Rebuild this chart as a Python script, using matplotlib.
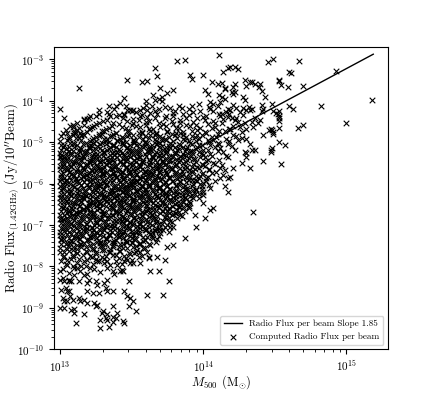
import numpy as np
import matplotlib
matplotlib.use("Agg")
import matplotlib.pyplot as plt

plt.rcParams['font.family'] = 'serif'
plt.rcParams['font.serif'] = ['cmr10', 'DejaVu Serif']
plt.rcParams['mathtext.fontset'] = 'cm'
plt.rcParams['axes.formatter.use_mathtext'] = True
plt.rcParams['axes.unicode_minus'] = False

# 値は log10(M500 / Msun), log10(Flux / Jy) で読み取り

# 上側のまばらな点
upper_pts = [
    (13.00, -4.19), (13.03, -4.42), (13.13, -3.69), (13.09, -4.59), (13.17, -4.45), (13.21, -4.37),
    (13.25, -4.38), (13.27, -4.23), (13.34, -4.14), (13.34, -4.31), (13.39, -4.14), (13.45, -3.93),
    (13.45, -4.34), (13.47, -3.51), (13.51, -4.23), (13.57, -3.55), (13.61, -3.52), (13.60, -4.00),
    (13.66, -3.21), (13.68, -3.41), (13.70, -3.69), (13.66, -3.98), (13.69, -3.95), (13.11, -4.78),
    (13.82, -3.04), (13.87, -3.01), (14.11, -2.90), (14.45, -3.07), (14.49, -3.00), (14.14, -3.31),
    (14.19, -3.20), (14.22, -3.19), (14.24, -3.24), (13.91, -3.39), (13.92, -3.48), (14.00, -3.39),
    (14.06, -3.55), (14.10, -3.60), (14.22, -3.61), (14.29, -3.49), (14.30, -3.65), (14.34, -3.55),
    (14.36, -3.61), (14.40, -3.60), (14.41, -3.77), (14.43, -3.91), (14.53, -3.51), (14.15, -3.71),
    (14.20, -3.79), (14.21, -3.83), (14.11, -3.87), (14.13, -3.91), (14.15, -3.95), (14.01, -3.75),
    (14.03, -3.83), (14.28, -3.91), (14.29, -3.99), (14.32, -4.15), (14.34, -4.19), (14.41, -4.11),
    (14.42, -4.19), (14.48, -4.09), (14.52, -4.31), (14.53, -4.43), (14.34, -4.51), (14.38, -4.55),
    (14.35, -4.63), (14.48, -4.71), (14.47, -4.68), (14.42, -4.83), (14.49, -4.80), (14.05, -4.03),
    (14.07, -4.07), (14.17, -4.19), (14.19, -4.23), (14.20, -4.43), (14.22, -4.47), (14.17, -4.39),
    (14.11, -4.31), (14.18, -4.68), (14.29, -4.55), (14.30, -4.68), (14.30, -4.92), (14.33, -5.04),
    (14.24, -4.96), (14.17, -5.04), (14.11, -5.04), (13.75, -3.81), (13.79, -3.74), (14.17, -3.22),
    (14.13, -3.58), (14.15, -3.70), (13.17, -4.47), (13.35, -4.38), (13.47, -4.22), (13.50, -4.26),
    (13.56, -4.23), (13.61, -4.22), (13.64, -4.14), (13.71, -3.90), (13.65, -3.86), (13.12, -4.71),
    (13.10, -4.79), (13.01, -5.35), (13.21, -4.67), (14.33, -3.54), (14.39, -3.66), (14.22, -3.78),
    (14.21, -3.66), (14.28, -4.18), (14.33, -4.22), (14.36, -4.42), (14.40, -4.47), (14.41, -4.26),
    (14.49, -4.26),
]

# 中心の密集部分 (1層目)
core_pts = [
    (13.42, -4.05), (13.58, -4.17), (13.71, -4.02), (13.83, -4.12), (13.90, -4.19), (13.97, -4.08),
    (14.04, -4.15), (14.12, -4.03), (14.21, -4.11), (13.77, -4.18),
    (13.33, -4.27), (13.41, -4.35), (13.49, -4.22), (13.56, -4.38), (13.63, -4.29), (13.69, -4.21),
    (13.74, -4.36), (13.80, -4.25), (13.86, -4.33), (13.93, -4.28), (14.00, -4.39), (14.07, -4.24),
    (14.13, -4.31), (14.26, -4.27), (13.61, -4.40),
    (13.12, -4.53), (13.19, -4.44), (13.25, -4.57), (13.30, -4.48), (13.37, -4.55), (13.44, -4.42),
    (13.50, -4.59), (13.55, -4.46), (13.60, -4.52), (13.66, -4.43), (13.72, -4.57), (13.78, -4.49),
    (13.84, -4.54), (13.88, -4.41), (13.95, -4.58), (14.01, -4.47), (14.08, -4.55), (14.14, -4.45),
    (14.24, -4.52), (13.47, -4.50),
    (13.04, -4.71), (13.09, -4.63), (13.14, -4.77), (13.20, -4.68), (13.24, -4.62), (13.29, -4.74),
    (13.34, -4.66), (13.39, -4.79), (13.43, -4.64), (13.48, -4.72), (13.53, -4.61), (13.57, -4.76),
    (13.62, -4.69), (13.67, -4.78), (13.70, -4.63), (13.75, -4.72), (13.81, -4.67), (13.86, -4.75),
    (13.91, -4.62), (13.96, -4.70), (14.02, -4.78), (14.06, -4.65), (14.11, -4.73), (14.19, -4.68),
    (14.27, -4.76),
    (13.01, -4.86), (13.05, -4.95), (13.09, -4.82), (13.13, -4.91), (13.17, -4.84), (13.21, -4.98),
    (13.25, -4.88), (13.29, -4.81), (13.33, -4.93), (13.36, -4.85), (13.40, -4.97), (13.44, -4.89),
    (13.48, -4.82), (13.51, -4.94), (13.55, -4.87), (13.59, -4.99), (13.63, -4.83), (13.66, -4.92),
    (13.70, -4.86), (13.74, -4.96), (13.78, -4.81), (13.82, -4.90), (13.86, -4.84), (13.90, -4.97),
    (13.94, -4.88), (13.99, -4.83), (14.03, -4.94), (14.09, -4.87), (14.16, -4.92), (14.23, -4.85),
    (13.01, -5.08), (13.04, -5.17), (13.07, -5.02), (13.10, -5.12), (13.13, -5.19), (13.16, -5.05),
    (13.20, -5.14), (13.23, -5.01), (13.26, -5.10), (13.29, -5.18), (13.32, -5.04), (13.35, -5.13),
    (13.38, -5.07), (13.41, -5.16), (13.44, -5.02), (13.47, -5.11), (13.50, -5.19), (13.53, -5.06),
    (13.56, -5.14), (13.59, -5.03), (13.62, -5.12), (13.65, -5.17), (13.68, -5.05), (13.71, -5.10),
    (13.74, -5.18), (13.77, -5.03), (13.80, -5.13), (13.84, -5.07), (13.88, -5.16), (13.92, -5.04),
    (13.96, -5.12), (14.00, -5.18), (14.05, -5.06), (14.12, -5.14), (14.20, -5.09),
    (13.00, -5.27), (13.03, -5.36), (13.06, -5.22), (13.08, -5.31), (13.11, -5.39), (13.14, -5.25),
    (13.16, -5.33), (13.19, -5.21), (13.22, -5.37), (13.24, -5.28), (13.27, -5.34), (13.30, -5.23),
    (13.32, -5.39), (13.35, -5.30), (13.38, -5.24), (13.40, -5.35), (13.43, -5.27), (13.46, -5.38),
    (13.48, -5.22), (13.51, -5.32), (13.54, -5.26), (13.56, -5.37), (13.59, -5.29), (13.62, -5.21),
    (13.64, -5.34), (13.67, -5.25), (13.70, -5.38), (13.72, -5.30), (13.75, -5.23), (13.78, -5.36),
    (13.81, -5.27), (13.84, -5.33), (13.87, -5.22), (13.90, -5.38), (13.93, -5.29), (13.97, -5.24),
    (14.01, -5.35), (14.05, -5.28), (14.10, -5.21), (14.16, -5.33),
    (13.01, -5.45), (13.03, -5.54), (13.05, -5.41), (13.08, -5.58), (13.10, -5.47), (13.13, -5.52),
    (13.15, -5.43), (13.18, -5.56), (13.21, -5.49), (13.23, -5.42), (13.26, -5.55), (13.29, -5.46),
    (13.31, -5.59), (13.34, -5.51), (13.37, -5.44), (13.39, -5.57), (13.42, -5.48), (13.45, -5.53),
    (13.47, -5.41), (13.50, -5.56), (13.53, -5.47), (13.55, -5.52), (13.58, -5.44), (13.61, -5.58),
    (13.63, -5.49), (13.66, -5.42), (13.69, -5.55), (13.71, -5.46), (13.74, -5.53), (13.77, -5.43),
    (13.80, -5.57), (13.83, -5.48), (13.86, -5.51), (13.89, -5.44), (13.92, -5.59), (13.95, -5.47),
    (13.99, -5.54), (14.03, -5.42), (14.07, -5.50), (14.13, -5.56),
    (13.00, -5.66), (13.02, -5.75), (13.05, -5.62), (13.07, -5.71), (13.10, -5.79), (13.12, -5.64),
    (13.15, -5.73), (13.17, -5.68), (13.20, -5.77), (13.23, -5.61), (13.25, -5.70), (13.28, -5.65),
    (13.30, -5.78), (13.33, -5.72), (13.36, -5.63), (13.38, -5.74), (13.41, -5.67), (13.43, -5.79),
    (13.46, -5.62), (13.49, -5.71), (13.51, -5.66), (13.54, -5.76), (13.57, -5.64), (13.59, -5.73),
    (13.62, -5.69), (13.65, -5.78), (13.67, -5.61), (13.70, -5.72), (13.73, -5.67), (13.75, -5.76),
    (13.78, -5.63), (13.81, -5.71), (13.84, -5.78), (13.87, -5.65), (13.90, -5.74), (13.93, -5.69),
    (13.97, -5.62), (14.00, -5.75), (14.04, -5.68), (14.09, -5.73),
    (13.01, -5.88), (13.03, -5.97), (13.06, -5.83), (13.08, -5.92), (13.11, -5.86), (13.13, -5.99),
    (13.16, -5.81), (13.18, -5.90), (13.21, -5.95), (13.24, -5.84), (13.26, -5.93), (13.29, -5.87),
    (13.31, -5.98), (13.34, -5.82), (13.37, -5.91), (13.39, -5.85), (13.42, -5.96), (13.44, -5.89),
    (13.47, -5.81), (13.50, -5.94), (13.52, -5.87), (13.55, -5.99), (13.58, -5.83), (13.60, -5.92),
    (13.63, -5.86), (13.66, -5.95), (13.68, -5.82), (13.71, -5.90), (13.74, -5.97), (13.76, -5.84),
    (13.79, -5.93), (13.82, -5.88), (13.85, -5.81), (13.88, -5.96), (13.91, -5.85), (13.94, -5.92),
    (13.97, -5.87), (14.00, -5.98), (14.03, -5.83), (13.46, -5.97),
    (13.00, -6.05), (13.02, -6.14), (13.05, -6.02), (13.07, -6.19), (13.10, -6.08), (13.12, -6.13),
    (13.15, -6.04), (13.17, -6.17), (13.20, -6.10), (13.22, -6.01), (13.25, -6.15), (13.27, -6.07),
    (13.30, -6.12), (13.32, -6.03), (13.35, -6.18), (13.37, -6.09), (13.40, -6.14), (13.42, -6.05),
    (13.45, -6.11), (13.47, -6.19), (13.50, -6.02), (13.52, -6.08), (13.55, -6.16), (13.57, -6.04),
    (13.60, -6.13), (13.62, -6.07), (13.65, -6.18), (13.67, -6.01), (13.70, -6.10), (13.72, -6.15),
    (13.75, -6.05), (13.77, -6.12), (13.80, -6.19), (13.83, -6.03), (13.86, -6.09), (13.89, -6.16),
    (13.92, -6.06), (13.95, -6.12), (13.98, -6.02), (13.53, -6.19),
    (13.01, -6.26), (13.03, -6.35), (13.06, -6.22), (13.08, -6.31), (13.11, -6.38), (13.13, -6.24),
    (13.16, -6.33), (13.18, -6.28), (13.21, -6.37), (13.23, -6.21), (13.26, -6.30), (13.28, -6.25),
    (13.31, -6.39), (13.33, -6.32), (13.36, -6.23), (13.38, -6.36), (13.41, -6.27), (13.43, -6.34),
    (13.46, -6.21), (13.48, -6.30), (13.51, -6.38), (13.53, -6.26), (13.56, -6.33), (13.58, -6.22),
    (13.61, -6.29), (13.63, -6.37), (13.66, -6.24), (13.68, -6.31), (13.71, -6.27), (13.73, -6.36),
    (13.76, -6.23), (13.79, -6.32), (13.82, -6.26), (13.85, -6.35), (13.88, -6.22), (13.91, -6.29),
    (13.94, -6.24), (13.40, -6.39),
    (13.00, -6.45), (13.03, -6.54), (13.05, -6.42), (13.08, -6.58), (13.10, -6.48), (13.13, -6.53),
    (13.15, -6.44), (13.18, -6.57), (13.20, -6.49), (13.23, -6.41), (13.25, -6.55), (13.28, -6.46),
    (13.30, -6.52), (13.33, -6.43), (13.36, -6.59), (13.38, -6.50), (13.41, -6.44), (13.43, -6.56),
    (13.46, -6.47), (13.48, -6.53), (13.51, -6.42), (13.53, -6.58), (13.56, -6.49), (13.58, -6.45),
    (13.61, -6.55), (13.63, -6.41), (13.66, -6.51), (13.69, -6.57), (13.71, -6.46), (13.74, -6.53),
    (13.77, -6.43), (13.80, -6.50), (13.83, -6.56), (13.86, -6.44), (13.89, -6.52),
    (13.01, -6.67), (13.03, -6.76), (13.06, -6.63), (13.08, -6.72), (13.11, -6.79), (13.13, -6.65),
    (13.16, -6.74), (13.19, -6.61), (13.21, -6.70), (13.24, -6.78), (13.26, -6.64), (13.29, -6.73),
    (13.31, -6.68), (13.34, -6.77), (13.37, -6.62), (13.39, -6.71), (13.42, -6.66), (13.44, -6.79),
    (13.47, -6.63), (13.50, -6.74), (13.52, -6.69), (13.55, -6.61), (13.57, -6.76), (13.60, -6.67),
    (13.63, -6.72), (13.65, -6.64), (13.68, -6.78), (13.71, -6.66), (13.74, -6.73), (13.77, -6.62),
    (13.80, -6.70), (13.84, -6.77),
    (13.00, -6.85), (13.03, -6.94), (13.05, -6.82), (13.08, -6.98), (13.10, -6.88), (13.13, -6.93),
    (13.15, -6.84), (13.18, -6.97), (13.21, -6.89), (13.23, -6.81), (13.26, -6.95), (13.28, -6.86),
    (13.31, -6.92), (13.34, -6.83), (13.36, -6.99), (13.39, -6.90), (13.41, -6.84), (13.44, -6.96),
    (13.47, -6.87), (13.49, -6.93), (13.52, -6.82), (13.55, -6.98), (13.57, -6.89), (13.60, -6.85),
    (13.63, -6.95), (13.65, -6.81), (13.68, -6.91), (13.71, -6.97), (13.74, -6.86), (13.78, -6.92),
    (13.01, -7.06), (13.03, -7.15), (13.06, -7.02), (13.09, -7.11), (13.11, -7.19), (13.14, -7.05),
    (13.16, -7.13), (13.19, -7.08), (13.22, -7.17), (13.24, -7.01), (13.27, -7.10), (13.29, -7.16),
    (13.32, -7.04), (13.35, -7.12), (13.37, -7.07), (13.40, -7.18), (13.43, -7.03), (13.45, -7.14),
    (13.48, -7.09), (13.51, -7.01), (13.53, -7.16), (13.56, -7.06), (13.59, -7.12), (13.62, -7.04),
    (13.64, -7.18), (13.67, -7.08), (13.70, -7.13), (13.73, -7.05),
    (13.00, -7.25), (13.03, -7.34), (13.05, -7.22), (13.08, -7.38), (13.11, -7.28), (13.13, -7.33),
    (13.16, -7.24), (13.19, -7.37), (13.21, -7.29), (13.24, -7.21), (13.27, -7.35), (13.30, -7.26),
    (13.32, -7.32), (13.35, -7.23), (13.38, -7.39), (13.41, -7.30), (13.43, -7.24), (13.46, -7.36),
    (13.49, -7.27), (13.52, -7.33), (13.55, -7.22), (13.58, -7.38), (13.61, -7.29), (13.64, -7.25),
    (13.68, -7.34),
    (13.01, -7.46), (13.04, -7.55), (13.07, -7.43), (13.09, -7.52), (13.12, -7.59), (13.15, -7.45),
    (13.18, -7.54), (13.21, -7.48), (13.24, -7.57), (13.26, -7.42), (13.29, -7.51), (13.32, -7.46),
    (13.35, -7.58), (13.38, -7.44), (13.41, -7.53), (13.44, -7.47), (13.47, -7.56), (13.50, -7.41),
    (13.53, -7.50), (13.56, -7.45), (13.59, -7.55), (13.63, -7.49),
    (13.00, -7.65), (13.03, -7.74), (13.06, -7.62), (13.09, -7.78), (13.12, -7.68), (13.16, -7.73),
    (13.19, -7.64), (13.22, -7.77), (13.25, -7.69), (13.29, -7.61), (13.32, -7.75), (13.35, -7.66),
    (13.39, -7.72), (13.42, -7.63), (13.46, -7.79), (13.49, -7.70), (13.53, -7.65), (13.57, -7.74),
    (13.01, -7.86), (13.04, -7.95), (13.08, -7.83), (13.12, -7.92), (13.15, -7.98), (13.19, -7.85),
    (13.23, -7.93), (13.27, -7.88), (13.31, -7.82), (13.35, -7.96), (13.39, -7.87), (13.43, -7.94),
    (13.47, -7.84), (13.51, -7.91),
    (13.02, -8.06), (13.06, -8.15), (13.10, -8.03), (13.14, -8.12), (13.19, -8.18), (13.24, -8.07),
    (13.28, -8.14), (13.33, -8.04), (13.38, -8.17), (13.44, -8.10),
]

# 中心の密集部分 (2層目)
core2_pts = [
    (13.38, -4.21), (13.46, -4.13), (13.53, -4.27), (13.60, -4.11), (13.66, -4.24), (13.73, -4.15),
    (13.79, -4.29), (13.85, -4.18), (13.92, -4.12), (13.98, -4.26), (14.05, -4.20), (14.10, -4.14),
    (14.16, -4.28), (14.23, -4.17), (14.30, -4.23),
    (13.20, -4.41), (13.27, -4.33), (13.33, -4.46), (13.39, -4.38), (13.45, -4.31), (13.51, -4.44),
    (13.57, -4.35), (13.62, -4.48), (13.68, -4.32), (13.73, -4.42), (13.79, -4.37), (13.84, -4.46),
    (13.90, -4.34), (13.96, -4.43), (14.02, -4.36), (14.07, -4.49), (14.12, -4.38), (14.18, -4.33),
    (14.23, -4.41), (14.28, -4.35),
    (13.07, -4.60), (13.13, -4.66), (13.17, -4.58), (13.22, -4.63), (13.27, -4.55), (13.32, -4.68),
    (13.36, -4.61), (13.41, -4.57), (13.46, -4.67), (13.51, -4.53), (13.56, -4.64), (13.60, -4.58),
    (13.65, -4.69), (13.69, -4.55), (13.74, -4.62), (13.79, -4.56), (13.83, -4.66), (13.88, -4.59),
    (13.93, -4.52), (13.98, -4.65), (14.03, -4.57), (14.08, -4.63), (14.13, -4.55), (14.21, -4.61),
    (14.26, -4.64),
    (13.02, -4.79), (13.06, -4.87), (13.10, -4.73), (13.15, -4.82), (13.19, -4.76), (13.23, -4.89),
    (13.27, -4.80), (13.31, -4.72), (13.35, -4.85), (13.39, -4.77), (13.43, -4.88), (13.47, -4.74),
    (13.51, -4.83), (13.55, -4.78), (13.59, -4.86), (13.63, -4.72), (13.67, -4.81), (13.71, -4.89),
    (13.75, -4.75), (13.80, -4.84), (13.84, -4.79), (13.88, -4.87), (13.92, -4.73), (13.96, -4.82),
    (14.01, -4.76), (14.06, -4.88), (14.10, -4.80), (14.15, -4.74), (14.21, -4.83), (14.27, -4.90),
    (13.00, -4.98), (13.03, -5.06), (13.06, -4.93), (13.09, -5.01), (13.12, -5.08), (13.15, -4.95),
    (13.18, -5.03), (13.22, -5.09), (13.25, -4.97), (13.28, -5.05), (13.31, -4.92), (13.34, -5.00),
    (13.37, -5.07), (13.40, -4.94), (13.43, -5.03), (13.46, -4.99), (13.49, -5.08), (13.52, -4.96),
    (13.55, -5.04), (13.58, -4.92), (13.61, -5.01), (13.64, -5.07), (13.67, -4.97), (13.70, -5.03),
    (13.73, -4.93), (13.76, -5.09), (13.79, -4.98), (13.83, -5.05), (13.87, -4.95), (13.91, -5.02),
    (13.95, -4.97), (13.99, -5.08), (14.04, -4.99), (14.10, -5.03), (14.18, -4.97),
    (13.01, -5.18), (13.04, -5.26), (13.06, -5.13), (13.09, -5.21), (13.12, -5.29), (13.15, -5.16),
    (13.17, -5.24), (13.20, -5.11), (13.23, -5.20), (13.26, -5.28), (13.28, -5.14), (13.31, -5.23),
    (13.34, -5.17), (13.36, -5.27), (13.39, -5.12), (13.42, -5.21), (13.45, -5.29), (13.47, -5.15),
    (13.50, -5.24), (13.53, -5.18), (13.55, -5.27), (13.58, -5.13), (13.61, -5.22), (13.63, -5.16),
    (13.66, -5.28), (13.69, -5.11), (13.72, -5.20), (13.74, -5.26), (13.77, -5.15), (13.80, -5.23),
    (13.83, -5.17), (13.86, -5.29), (13.89, -5.12), (13.92, -5.22), (13.95, -5.16), (13.99, -5.26),
    (14.03, -5.19), (14.08, -5.13), (14.14, -5.24), (14.22, -5.18),
    (13.00, -5.37), (13.02, -5.46), (13.05, -5.33), (13.07, -5.42), (13.10, -5.49), (13.12, -5.35),
    (13.15, -5.44), (13.17, -5.38), (13.20, -5.47), (13.22, -5.31), (13.25, -5.40), (13.28, -5.45),
    (13.30, -5.34), (13.33, -5.43), (13.36, -5.37), (13.38, -5.48), (13.41, -5.32), (13.44, -5.41),
    (13.46, -5.46), (13.49, -5.35), (13.52, -5.44), (13.54, -5.38), (13.57, -5.49), (13.60, -5.33),
    (13.62, -5.42), (13.65, -5.36), (13.68, -5.47), (13.70, -5.31), (13.73, -5.40), (13.76, -5.45),
    (13.79, -5.34), (13.82, -5.43), (13.85, -5.38), (13.88, -5.48), (13.91, -5.32), (13.94, -5.41),
    (13.98, -5.36), (14.02, -5.46), (14.06, -5.34), (14.11, -5.42), (14.17, -5.37), (13.34, -5.49),
    (13.00, -5.57), (13.03, -5.65), (13.06, -5.52), (13.08, -5.61), (13.11, -5.69), (13.14, -5.55),
    (13.16, -5.63), (13.19, -5.58), (13.22, -5.67), (13.24, -5.51), (13.27, -5.60), (13.30, -5.66),
    (13.32, -5.53), (13.35, -5.62), (13.38, -5.57), (13.40, -5.68), (13.43, -5.52), (13.46, -5.61),
    (13.48, -5.65), (13.51, -5.54), (13.54, -5.63), (13.56, -5.58), (13.59, -5.69), (13.62, -5.53),
    (13.64, -5.62), (13.67, -5.56), (13.70, -5.67), (13.72, -5.51), (13.75, -5.60), (13.78, -5.65),
    (13.81, -5.54), (13.84, -5.63), (13.87, -5.58), (13.90, -5.68), (13.93, -5.52), (13.96, -5.61),
    (14.00, -5.56), (14.04, -5.66), (14.08, -5.53), (14.12, -5.62), (13.28, -5.70), (13.52, -5.70),
    (13.01, -5.77), (13.03, -5.86), (13.06, -5.72), (13.09, -5.81), (13.11, -5.88), (13.14, -5.75),
    (13.16, -5.84), (13.19, -5.79), (13.21, -5.87), (13.24, -5.73), (13.27, -5.82), (13.29, -5.76),
    (13.32, -5.89), (13.35, -5.80), (13.37, -5.74), (13.40, -5.85), (13.42, -5.78), (13.45, -5.88),
    (13.48, -5.72), (13.50, -5.81), (13.53, -5.76), (13.56, -5.86), (13.58, -5.74), (13.61, -5.83),
    (13.64, -5.78), (13.66, -5.88), (13.69, -5.73), (13.72, -5.82), (13.75, -5.77), (13.77, -5.87),
    (13.80, -5.74), (13.83, -5.83), (13.86, -5.76), (13.89, -5.86), (13.92, -5.73), (13.95, -5.81),
    (13.99, -5.77), (14.02, -5.87), (14.06, -5.75), (13.20, -5.71), (13.44, -5.71), (13.63, -5.71),
    (13.00, -5.95), (13.02, -6.04), (13.05, -5.92), (13.07, -6.01), (13.10, -6.08), (13.12, -5.94),
    (13.15, -6.03), (13.17, -5.97), (13.20, -6.06), (13.23, -5.91), (13.25, -6.00), (13.28, -6.05),
    (13.30, -5.93), (13.33, -6.02), (13.36, -5.96), (13.38, -6.07), (13.41, -5.91), (13.43, -6.00),
    (13.46, -6.05), (13.49, -5.94), (13.51, -6.03), (13.54, -5.97), (13.57, -6.08), (13.59, -5.92),
    (13.62, -6.01), (13.64, -5.96), (13.67, -6.06), (13.70, -5.91), (13.72, -6.00), (13.75, -6.05),
    (13.78, -5.94), (13.81, -6.03), (13.84, -5.97), (13.87, -6.07), (13.90, -5.92), (13.93, -6.01),
    (13.96, -5.95), (13.99, -6.06), (14.02, -5.94), (13.26, -6.09), (13.48, -6.09), (13.69, -6.09),
    (13.01, -6.16), (13.03, -6.25), (13.06, -6.12), (13.08, -6.21), (13.11, -6.28), (13.13, -6.15),
    (13.16, -6.24), (13.18, -6.18), (13.21, -6.27), (13.24, -6.11), (13.26, -6.20), (13.29, -6.25),
    (13.31, -6.14), (13.34, -6.23), (13.36, -6.17), (13.39, -6.28), (13.41, -6.12), (13.44, -6.21),
    (13.46, -6.26), (13.49, -6.15), (13.51, -6.24), (13.54, -6.18), (13.56, -6.28), (13.59, -6.12),
    (13.61, -6.21), (13.64, -6.15), (13.66, -6.26), (13.69, -6.11), (13.71, -6.20), (13.74, -6.25),
    (13.76, -6.14), (13.79, -6.23), (13.82, -6.17), (13.85, -6.27), (13.87, -6.12), (13.90, -6.21),
    (13.93, -6.16), (13.97, -6.25), (13.99, -6.13), (13.58, -6.29),
    (13.00, -6.36), (13.02, -6.44), (13.05, -6.32), (13.07, -6.41), (13.10, -6.48), (13.12, -6.34),
    (13.15, -6.43), (13.17, -6.37), (13.20, -6.46), (13.22, -6.31), (13.25, -6.40), (13.27, -6.45),
    (13.30, -6.33), (13.32, -6.42), (13.35, -6.36), (13.37, -6.47), (13.40, -6.31), (13.42, -6.40),
    (13.45, -6.45), (13.47, -6.34), (13.50, -6.43), (13.52, -6.37), (13.55, -6.48), (13.57, -6.32),
    (13.60, -6.41), (13.62, -6.35), (13.65, -6.46), (13.67, -6.31), (13.70, -6.40), (13.72, -6.44),
    (13.75, -6.33), (13.78, -6.42), (13.81, -6.37), (13.84, -6.47), (13.87, -6.32), (13.90, -6.41),
    (13.93, -6.36), (13.48, -6.49),
    (13.01, -6.56), (13.04, -6.64), (13.06, -6.52), (13.09, -6.61), (13.11, -6.68), (13.14, -6.55),
    (13.16, -6.63), (13.19, -6.57), (13.21, -6.66), (13.24, -6.51), (13.27, -6.60), (13.29, -6.65),
    (13.32, -6.53), (13.34, -6.62), (13.37, -6.56), (13.39, -6.67), (13.42, -6.51), (13.45, -6.60),
    (13.47, -6.65), (13.50, -6.54), (13.52, -6.63), (13.55, -6.57), (13.57, -6.68), (13.60, -6.52),
    (13.62, -6.61), (13.65, -6.56), (13.67, -6.66), (13.70, -6.51), (13.73, -6.60), (13.75, -6.65),
    (13.78, -6.54), (13.81, -6.62), (13.84, -6.57), (13.87, -6.66), (13.90, -6.53),
    (13.00, -6.76), (13.02, -6.85), (13.05, -6.72), (13.07, -6.81), (13.10, -6.88), (13.12, -6.74),
    (13.15, -6.83), (13.18, -6.77), (13.20, -6.86), (13.23, -6.71), (13.25, -6.80), (13.28, -6.85),
    (13.30, -6.73), (13.33, -6.82), (13.36, -6.76), (13.38, -6.87), (13.41, -6.71), (13.43, -6.80),
    (13.46, -6.85), (13.49, -6.74), (13.51, -6.83), (13.54, -6.77), (13.56, -6.88), (13.59, -6.72),
    (13.62, -6.81), (13.64, -6.75), (13.67, -6.86), (13.70, -6.71), (13.73, -6.80), (13.76, -6.84),
    (13.79, -6.73), (13.82, -6.82),
    (13.01, -6.96), (13.04, -7.04), (13.06, -6.92), (13.09, -7.01), (13.12, -7.08), (13.14, -6.94),
    (13.17, -7.03), (13.19, -6.97), (13.22, -7.06), (13.25, -6.91), (13.27, -7.00), (13.30, -7.05),
    (13.32, -6.93), (13.35, -7.02), (13.38, -6.96), (13.40, -7.07), (13.43, -6.91), (13.46, -7.00),
    (13.48, -7.05), (13.51, -6.94), (13.54, -7.03), (13.56, -6.97), (13.59, -7.08), (13.61, -6.92),
    (13.64, -7.01), (13.67, -6.95), (13.69, -7.06), (13.72, -6.91), (13.75, -7.00), (13.77, -7.04),
    (13.00, -7.16), (13.02, -7.25), (13.05, -7.12), (13.08, -7.21), (13.10, -7.28), (13.13, -7.14),
    (13.15, -7.23), (13.18, -7.17), (13.21, -7.26), (13.23, -7.11), (13.26, -7.20), (13.28, -7.25),
    (13.31, -7.13), (13.34, -7.22), (13.36, -7.16), (13.39, -7.27), (13.42, -7.11), (13.44, -7.20),
    (13.47, -7.25), (13.50, -7.14), (13.52, -7.23), (13.55, -7.17), (13.58, -7.28), (13.60, -7.12),
    (13.63, -7.21), (13.66, -7.15), (13.69, -7.26), (13.72, -7.12),
    (13.01, -7.36), (13.04, -7.45), (13.06, -7.32), (13.09, -7.41), (13.12, -7.48), (13.14, -7.34),
    (13.17, -7.43), (13.20, -7.37), (13.23, -7.46), (13.25, -7.31), (13.28, -7.40), (13.31, -7.45),
    (13.33, -7.33), (13.36, -7.42), (13.39, -7.36), (13.42, -7.47), (13.44, -7.31), (13.47, -7.40),
    (13.50, -7.44), (13.53, -7.34), (13.56, -7.43), (13.59, -7.37), (13.62, -7.46), (13.65, -7.32),
    (13.67, -7.41),
    (13.00, -7.56), (13.03, -7.65), (13.06, -7.52), (13.09, -7.61), (13.12, -7.68), (13.15, -7.54),
    (13.18, -7.63), (13.22, -7.57), (13.25, -7.66), (13.28, -7.51), (13.31, -7.60), (13.34, -7.65),
    (13.37, -7.53), (13.41, -7.62), (13.44, -7.56), (13.48, -7.67), (13.51, -7.52), (13.54, -7.61),
    (13.58, -7.56), (13.61, -7.64),
    (13.02, -7.76), (13.05, -7.84), (13.09, -7.72), (13.13, -7.81), (13.17, -7.88), (13.21, -7.74),
    (13.25, -7.83), (13.29, -7.77), (13.33, -7.86), (13.37, -7.72), (13.41, -7.80), (13.45, -7.75),
    (13.50, -7.84), (13.55, -7.78),
]

# 中心の密集部分 (3層目, 最も濃い所)
core3_pts = [
    (13.05, -4.78), (13.11, -4.90), (13.16, -4.80), (13.22, -4.94), (13.27, -4.85), (13.32, -4.98),
    (13.37, -4.80), (13.42, -4.92), (13.47, -4.86), (13.52, -4.99), (13.57, -4.79), (13.62, -4.90),
    (13.66, -4.84), (13.71, -4.95), (13.76, -4.88), (13.81, -4.77), (13.86, -4.93), (13.92, -4.86),
    (13.97, -4.92), (14.07, -4.96),
    (13.02, -5.12), (13.06, -5.22), (13.10, -5.05), (13.14, -5.15), (13.18, -5.24), (13.21, -5.07),
    (13.25, -5.17), (13.29, -5.02), (13.33, -5.20), (13.37, -5.10), (13.40, -5.23), (13.44, -5.06),
    (13.48, -5.16), (13.52, -5.03), (13.55, -5.21), (13.59, -5.09), (13.63, -5.18), (13.67, -5.04),
    (13.70, -5.22), (13.74, -5.12), (13.78, -5.06), (13.82, -5.19), (13.86, -5.11), (13.91, -5.21),
    (13.97, -5.07),
    (13.01, -5.32), (13.04, -5.42), (13.08, -5.27), (13.11, -5.47), (13.15, -5.36), (13.18, -5.29),
    (13.21, -5.43), (13.25, -5.33), (13.28, -5.48), (13.31, -5.26), (13.35, -5.40), (13.38, -5.31),
    (13.42, -5.45), (13.45, -5.34), (13.48, -5.28), (13.52, -5.42), (13.55, -5.35), (13.58, -5.47),
    (13.62, -5.27), (13.65, -5.39), (13.69, -5.32), (13.72, -5.46), (13.76, -5.36), (13.80, -5.29),
    (13.84, -5.44), (13.88, -5.34), (13.93, -5.41), (14.00, -5.31),
    (13.02, -5.58), (13.05, -5.68), (13.09, -5.53), (13.12, -5.73), (13.16, -5.61), (13.19, -5.54),
    (13.22, -5.69), (13.26, -5.59), (13.29, -5.74), (13.32, -5.52), (13.36, -5.66), (13.39, -5.57),
    (13.43, -5.71), (13.46, -5.60), (13.49, -5.53), (13.53, -5.68), (13.56, -5.61), (13.60, -5.73),
    (13.63, -5.55), (13.67, -5.65), (13.70, -5.58), (13.74, -5.72), (13.77, -5.62), (13.81, -5.55),
    (13.85, -5.70), (13.89, -5.60), (13.94, -5.66), (14.01, -5.57),
    (13.01, -5.83), (13.04, -5.93), (13.08, -5.78), (13.11, -5.97), (13.15, -5.86), (13.18, -5.79),
    (13.21, -5.94), (13.25, -5.84), (13.28, -5.99), (13.31, -5.77), (13.35, -5.91), (13.38, -5.82),
    (13.42, -5.96), (13.45, -5.85), (13.48, -5.78), (13.52, -5.93), (13.55, -5.86), (13.59, -5.98),
    (13.62, -5.80), (13.66, -5.90), (13.69, -5.83), (13.73, -5.97), (13.76, -5.87), (13.80, -5.80),
    (13.84, -5.95), (13.88, -5.85), (13.92, -5.91), (13.98, -5.82),
    (13.02, -6.08), (13.05, -6.18), (13.09, -6.03), (13.12, -6.22), (13.16, -6.11), (13.19, -6.04),
    (13.22, -6.19), (13.26, -6.09), (13.29, -6.24), (13.32, -6.02), (13.36, -6.16), (13.39, -6.07),
    (13.43, -6.21), (13.46, -6.10), (13.49, -6.03), (13.53, -6.18), (13.56, -6.11), (13.60, -6.23),
    (13.63, -6.05), (13.67, -6.15), (13.70, -6.08), (13.74, -6.22), (13.77, -6.12), (13.81, -6.05),
    (13.85, -6.20), (13.89, -6.10), (13.95, -6.16),
    (13.01, -6.33), (13.04, -6.43), (13.08, -6.28), (13.11, -6.47), (13.15, -6.36), (13.18, -6.29),
    (13.21, -6.44), (13.25, -6.34), (13.28, -6.49), (13.31, -6.27), (13.35, -6.41), (13.38, -6.32),
    (13.42, -6.46), (13.45, -6.35), (13.48, -6.28), (13.52, -6.43), (13.55, -6.36), (13.59, -6.48),
    (13.62, -6.30), (13.66, -6.40), (13.69, -6.33), (13.73, -6.47), (13.77, -6.37), (13.81, -6.30),
    (13.86, -6.44),
    (13.02, -6.58), (13.06, -6.68), (13.09, -6.53), (13.13, -6.72), (13.17, -6.61), (13.20, -6.54),
    (13.24, -6.69), (13.28, -6.59), (13.31, -6.74), (13.35, -6.52), (13.39, -6.66), (13.42, -6.57),
    (13.46, -6.71), (13.50, -6.60), (13.53, -6.53), (13.57, -6.68), (13.61, -6.61), (13.64, -6.73),
    (13.68, -6.55), (13.72, -6.65), (13.76, -6.58), (13.81, -6.70),
    (13.01, -6.83), (13.05, -6.93), (13.09, -6.78), (13.13, -6.97), (13.17, -6.86), (13.21, -6.79),
    (13.25, -6.94), (13.29, -6.84), (13.33, -6.99), (13.37, -6.77), (13.41, -6.91), (13.45, -6.82),
    (13.49, -6.96), (13.53, -6.85), (13.57, -6.78), (13.61, -6.93), (13.65, -6.86), (13.69, -6.98),
    (13.73, -6.80), (13.77, -6.90),
    (13.02, -7.08), (13.06, -7.18), (13.10, -7.03), (13.14, -7.22), (13.18, -7.11), (13.22, -7.04),
    (13.26, -7.19), (13.30, -7.09), (13.34, -7.24), (13.38, -7.02), (13.42, -7.16), (13.46, -7.07),
    (13.50, -7.21), (13.54, -7.10), (13.58, -7.03), (13.62, -7.18), (13.66, -7.11), (13.70, -7.20),
    (13.01, -7.33), (13.05, -7.43), (13.10, -7.28), (13.14, -7.47), (13.19, -7.36), (13.23, -7.29),
    (13.28, -7.44), (13.32, -7.34), (13.37, -7.49), (13.41, -7.27), (13.46, -7.41), (13.50, -7.32),
    (13.55, -7.46), (13.59, -7.35), (13.64, -7.28),
]

# 右下側の縁
edge_pts = [
    (14.60, -4.13), (14.63, -4.20), (14.53, -4.25), (14.51, -4.30), (14.53, -4.37), (14.53, -4.48),
    (14.66, -4.67), (14.70, -4.59), (14.53, -4.67), (14.46, -4.71), (14.49, -4.75), (14.53, -4.99),
    (14.57, -5.07), (14.47, -5.19), (14.48, -5.15), (14.30, -5.27), (14.36, -5.19), (14.42, -5.45),
    (14.54, -5.53), (14.27, -5.51), (14.33, -5.62), (14.21, -5.62), (14.47, -5.25), (14.30, -5.35),
    (14.29, -5.23), (14.34, -5.19), (14.15, -5.67), (14.14, -5.79), (14.17, -5.87), (14.19, -5.83),
    (14.15, -6.07), (14.17, -6.20), (14.12, -5.87), (14.08, -5.95), (14.04, -6.03), (14.05, -6.11),
    (14.00, -6.20), (14.35, -6.68), (14.07, -6.60), (14.05, -6.64), (14.01, -6.84), (14.00, -6.48),
    (13.94, -6.76), (13.95, -7.04), (13.87, -7.32), (13.79, -7.04), (13.76, -7.16), (13.79, -7.48),
    (13.75, -7.52), (13.86, -6.56), (13.90, -6.60), (13.83, -6.68), (13.85, -6.78), (13.78, -6.76),
    (13.76, -6.72), (13.91, -6.48), (13.82, -6.48), (13.97, -6.36), (14.00, -6.28), (13.92, -6.28),
    (13.87, -6.36),
]

# 下側のまばらな点
lower_pts = [
    (13.00, -8.32), (13.03, -8.36), (13.06, -8.36), (13.04, -8.52), (13.06, -8.59), (13.02, -8.76),
    (13.05, -8.83), (13.03, -8.84), (13.10, -9.02), (13.17, -9.14), (13.13, -8.36), (13.19, -8.40),
    (13.20, -8.32), (13.25, -8.36), (13.26, -8.44), (13.31, -8.40), (13.33, -8.32), (13.32, -8.52),
    (13.13, -8.76), (13.17, -8.80), (13.14, -8.84), (13.19, -8.88), (13.24, -8.88), (13.25, -8.96),
    (13.26, -8.92), (13.19, -8.60), (13.23, -8.64), (13.27, -8.64), (13.33, -8.60), (13.37, -8.60),
    (13.30, -9.08), (13.33, -9.15), (13.32, -9.24), (13.28, -9.28), (13.40, -9.12), (13.39, -9.24),
    (13.44, -9.32), (13.45, -9.36), (13.37, -8.96), (13.45, -8.60), (13.47, -8.72), (13.49, -8.75),
    (13.51, -8.84), (13.53, -9.08), (13.48, -8.96), (13.48, -8.34), (13.37, -8.12), (13.42, -8.12),
    (13.43, -8.08), (13.56, -7.92), (13.61, -8.68), (13.72, -8.68), (13.63, -8.12), (13.69, -8.10),
    (13.62, -7.80), (13.68, -7.76), (13.73, -7.84), (13.76, -8.36), (13.05, -7.96), (13.09, -8.00),
    (13.12, -8.04), (13.18, -8.00), (13.21, -8.04), (13.26, -7.88), (13.31, -7.92), (13.40, -7.96),
    (13.45, -7.88), (13.49, -7.92), (13.52, -7.68), (13.56, -7.64), (13.62, -7.76), (13.00, -8.12),
    (13.10, -8.20), (13.17, -8.20), (13.02, -8.28), (13.06, -8.32), (13.08, -8.36), (13.01, -8.56),
    (13.05, -8.60), (13.07, -8.72), (13.09, -8.80), (13.00, -9.01), (13.03, -9.01), (13.08, -9.05),
    (13.10, -9.13), (13.11, -9.37), (13.29, -9.13), (13.33, -9.29), (13.37, -9.21), (13.28, -9.49),
    (13.34, -9.45), (13.37, -9.33),
]

# 大質量側の外れ値
outlier_pts = [
    (14.93, -3.28), (15.18, -3.98), (14.82, -4.14), (15.00, -4.53), (14.67, -3.04), (14.60, -3.30),
    (14.61, -3.34), (14.53, -3.52), (14.54, -3.62), (14.59, -3.66), (14.70, -3.65),
]

# 傾き1.85の直線の両端
line_mass = [1.0e13, 1.54e15]
line_flux = [1.19e-7, 1.32e-3]

all_pts = np.array(upper_pts + core_pts + core2_pts + core3_pts + edge_pts + lower_pts + outlier_pts)
mass = 10 ** all_pts[:, 0]
flux = 10 ** all_pts[:, 1]

fig = plt.figure(figsize=(4.32, 3.93), dpi=100)
ax = fig.add_subplot(111)

ax.plot(line_mass, line_flux, color='k', lw=1.0, label='Radio Flux per beam Slope 1.85')
ax.scatter(mass, flux, marker='x', color='k', s=16, linewidths=0.8,
           label='Computed Radio Flux per beam')

ax.set_xscale('log')
ax.set_yscale('log')
ax.set_xlim(10 ** 12.958, 10 ** 15.29)
ax.set_ylim(1e-10, 10 ** -2.70)

ax.set_xlabel(r'$M_{500}$ (M$_{\odot}$)', fontsize=9)
ax.set_ylabel(r"Radio Flux$_{(1.42\mathrm{GHz})}$ (Jy/10$''$Beam)", fontsize=9.2)
ax.xaxis.set_label_coords(0.5, -0.078)
ax.yaxis.set_label_coords(-0.099, 0.5)
ax.tick_params(labelsize=8)

ax.legend(loc='lower right', fontsize=6.6)

fig.subplots_adjust(left=0.125, right=0.898, bottom=0.111, top=0.881)
fig.savefig('out.png', dpi=100)
